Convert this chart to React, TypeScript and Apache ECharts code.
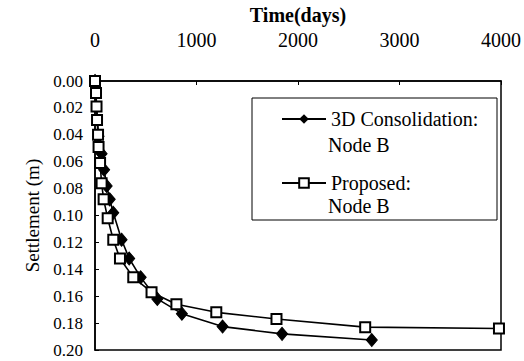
import React, { useEffect, useRef } from "react";
import * as echarts from "echarts";

// Time (days) and settlement (m)
const consolidationTime = [0, 35, 65, 90, 115, 145, 180, 262, 337, 450, 614, 856, 1257, 1843, 2727];
const consolidationSettlement = [0, 0.041, 0.054, 0.066, 0.078, 0.088, 0.098, 0.118, 0.132, 0.146, 0.162, 0.173, 0.1826, 0.188, 0.1926];

const proposedTime = [0, 10, 15, 20, 30, 35, 50, 65, 85, 125, 180, 246, 377, 557, 802, 1195, 1788, 2662, 3980];
const proposedSettlement = [0, 0.009, 0.019, 0.029, 0.04, 0.049, 0.061, 0.076, 0.088, 0.102, 0.118, 0.132, 0.146, 0.157, 0.166, 0.172, 0.177, 0.183, 0.184];

const xTicks = { min: 0, max: 4000, interval: 1000 };
const yTicks = { min: 0, max: 0.2, interval: 0.02 };

const seriesNames = ["3D Consolidation:", "Proposed:"];
const seriesSubtitles = ["Node B", "Node B"];

const FONT = "Liberation Serif";

export default function App() {
  const ref = useRef<HTMLDivElement>(null);
  useEffect(() => {
    if (!ref.current) return;
    const chart = echarts.init(ref.current, undefined, { renderer: "svg" });
    const zip = (xs: number[], ys: number[]) => xs.map((x, i) => [x, ys[i]]);
    chart.setOption({
      animation: false,
      backgroundColor: "#fff",
      textStyle: { fontFamily: FONT },
      grid: {
        left: 95, right: 21, top: 81, bottom: 11,
        show: true, borderColor: "#000", borderWidth: 1.5,
      },
      xAxis: {
        type: "value",
        position: "top",
        min: xTicks.min,
        max: xTicks.max,
        interval: xTicks.interval,
        name: "Time(days)",
        nameLocation: "middle",
        nameGap: 45,
        nameTextStyle: { fontFamily: FONT, fontSize: 20, fontWeight: "bold", color: "#000" },
        axisLine: { show: true, onZero: false, lineStyle: { color: "#000", width: 1.5 } },
        axisTick: { show: true, inside: true, length: 4, lineStyle: { color: "#000" } },
        axisLabel: { margin: 31, fontFamily: FONT, fontSize: 20, color: "#000", formatter: (v: number) => String(v) },
        splitLine: { show: false },
      },
      yAxis: {
        type: "value",
        inverse: true,
        min: yTicks.min,
        max: yTicks.max,
        interval: yTicks.interval,
        name: "Settlement (m)",
        nameLocation: "middle",
        nameRotate: 90,
        nameGap: 51,
        nameTextStyle: { fontFamily: FONT, fontSize: 19, color: "#000" },
        axisLine: { show: true, onZero: false, lineStyle: { color: "#000", width: 1.5 } },
        axisTick: { show: true, inside: true, length: 4, lineStyle: { color: "#000" } },
        axisLabel: { margin: 12, fontFamily: FONT, fontSize: 17, color: "#000", formatter: (v: number) => v.toFixed(2) },
        splitLine: { show: false },
      },
      legend: {
        orient: "vertical",
        left: 276,
        top: 103,
        itemWidth: 44,
        itemHeight: 12,
        itemGap: 42,
        data: seriesNames,
        textStyle: { fontFamily: FONT, fontSize: 20, color: "#000", lineHeight: 22 },
      },
      graphic: [
        { type: "rect", shape: { x: 252, y: 98, width: 245, height: 122 }, style: { fill: "#fff", stroke: "#000", lineWidth: 1 }, z: -1 },
        { type: "text", x: 328, y: 145, style: { text: seriesSubtitles[0], fontFamily: FONT, fontSize: 20, fill: "#000", verticalAlign: "middle" } },
        { type: "text", x: 328, y: 206, style: { text: seriesSubtitles[1], fontFamily: FONT, fontSize: 20, fill: "#000", verticalAlign: "middle" } },
      ],
      series: [
        {
          name: seriesNames[0], type: "line", data: zip(consolidationTime, consolidationSettlement),
          symbol: "diamond", symbolSize: [11, 13], showAllSymbol: true,
          lineStyle: { color: "#000", width: 1.6 }, itemStyle: { color: "#000", borderColor: "#000" }, z: 3,
        },
        {
          name: seriesNames[1], type: "line", data: zip(proposedTime, proposedSettlement),
          symbol: "rect", symbolSize: 10, showAllSymbol: true,
          lineStyle: { color: "#000", width: 1.6 }, itemStyle: { color: "#fff", borderColor: "#000", borderWidth: 2 }, z: 4,
        },
      ],
    });
    return () => chart.dispose();
  }, []);
  return <div ref={ref} style={{ width: 524, height: 361, position: "absolute", left: 0, top: 0 }} />;
}
